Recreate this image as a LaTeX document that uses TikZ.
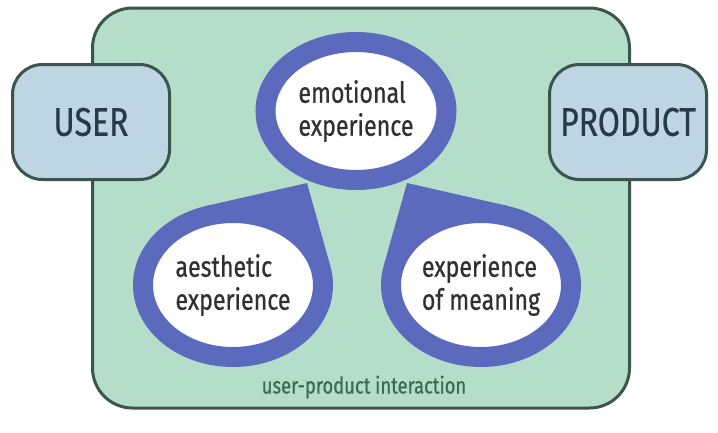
\documentclass[tikz,border=0pt]{standalone}
\usepackage{fontspec}
\setmainfont[FakeStretch=0.8,FakeBold=0.6]{Fira Sans}
\usetikzlibrary{shapes.geometric}
\definecolor{ringblue}{RGB}{92,106,190}
\definecolor{areagreen}{RGB}{180,222,202}
\definecolor{boxblue}{RGB}{190,214,228}
\definecolor{edgegray}{RGB}{60,84,76}
\definecolor{labelgreen}{RGB}{62,104,84}
\definecolor{textgray}{RGB}{48,48,48}
\definecolor{boxtext}{RGB}{40,58,70}

\begin{document}
\begin{tikzpicture}
[
    x=1pt, y=-1pt,
    ua/.style={draw=edgegray, line width=3pt, fill=areagreen, rounded corners=40pt, minimum width=537pt, minimum height=400pt}, % ua = user-product area
    ib/.style={draw=edgegray, line width=3pt, fill=boxblue, rounded corners=30pt, minimum width=157pt, minimum height=115pt, text=boxtext, font=\fontsize{40}{40}\selectfont}, % ib = interaction box
    xp/.style={ellipse, draw=ringblue, line width=20pt, fill=white, inner sep=0pt, minimum width=180pt, minimum height=144pt, text=textgray, align=left, font=\fontsize{29}{33}\selectfont}, % xp = experience
    tail/.style={fill=ringblue},
]
\useasboundingbox (0,0) rectangle (718,432);
\fill[white] (0,0) rectangle (718,432);

\node [ua] (area) at (361,208) {};
\node [text=labelgreen, font=\fontsize{23}{23}\selectfont] (lbl) at (364,387) {user-product interaction};

\node [ib] (user) at (91,122) {USER};
\node [ib] (product) at (628,122) {PRODUCT};

% tails of the two drops
\coordinate (aApex) at (307,183);
\coordinate (aL) at (206,206);
\coordinate (aR) at (330.5,266.6);
\coordinate (mApex) at (407,183);
\coordinate (mL) at (383.5,266.6);
\coordinate (mR) at (508,206);
\fill [tail] (aL) -- (aApex) -- (aR) -- cycle;
\fill [tail] (mL) -- (mApex) -- (mR) -- cycle;

\node [xp, minimum width=181pt, minimum height=138pt] (emo) at (356,111) {emotional\\experience};
\node [xp] (aes) at (233,285) {aesthetic\\experience};
\node [xp] (mean) at (481,285) {experience\\of meaning};
\end{tikzpicture}
\end{document}
